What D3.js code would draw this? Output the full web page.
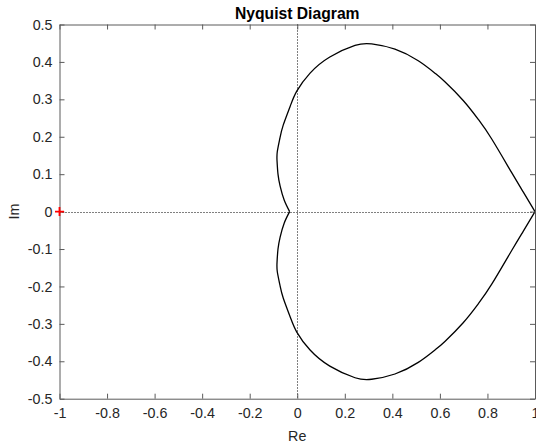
<!DOCTYPE html>
<html>
<head>
<meta charset="utf-8">
<script src="https://cdn.jsdelivr.net/npm/d3@7"></script>
<style>
  html, body { margin: 0; padding: 0; background: #fff; }
  svg { display: block; font-family: "Liberation Sans", Arial, Helvetica, sans-serif; }
</style>
</head>
<body>
<svg id="chart" width="536" height="446"></svg>
<script>
// Frequency response, upper branch: [Re, Im] from the DC point (1, 0) round to the cusp near the origin
const realPos = [1.000, 0.951, 0.902, 0.818, 0.762, 0.698, 0.621, 0.579, 0.509, 0.411, 0.313, 0.243, 0.137, 0.054, -0.002, -0.030, -0.059, -0.073, -0.084, -0.085, -0.081, -0.072, -0.055, -0.032];
const imagPos = [0.000, 0.052, 0.104, 0.194, 0.246, 0.297, 0.347, 0.370, 0.403, 0.434, 0.448, 0.444, 0.413, 0.370, 0.322, 0.281, 0.231, 0.196, 0.160, 0.135, 0.100, 0.068, 0.031, 0.000];
// Lower branch (mirror image below the real axis)
const realNeg = [1.000, 0.951, 0.902, 0.818, 0.762, 0.698, 0.621, 0.579, 0.509, 0.411, 0.313, 0.243, 0.137, 0.054, -0.002, -0.030, -0.059, -0.073, -0.084, -0.085, -0.081, -0.072, -0.055, -0.032];
const imagNeg = [0.000, -0.052, -0.104, -0.194, -0.246, -0.297, -0.347, -0.370, -0.403, -0.434, -0.448, -0.444, -0.413, -0.370, -0.322, -0.281, -0.231, -0.196, -0.160, -0.135, -0.100, -0.068, -0.031, 0.000];

// Critical point
const critical = [-1, 0];

// Axis ticks and labels
const xTicks = [-1, -0.8, -0.6, -0.4, -0.2, 0, 0.2, 0.4, 0.6, 0.8, 1];
const xTickLabels = ["-1", "-0.8", "-0.6", "-0.4", "-0.2", "0", "0.2", "0.4", "0.6", "0.8", "1"];
const yTicks = [-0.5, -0.4, -0.3, -0.2, -0.1, 0, 0.1, 0.2, 0.3, 0.4, 0.5];
const yTickLabels = ["-0.5", "-0.4", "-0.3", "-0.2", "-0.1", "0", "0.1", "0.2", "0.3", "0.4", "0.5"];

const svg = d3.select("#chart");
const plotLeft = 59.5, plotRight = 535, plotTop = 24.5, plotBottom = 398.7;

const x = d3.scaleLinear().domain([-1, 1]).range([plotLeft, plotRight]);
const y = d3.scaleLinear().domain([-0.5, 0.5]).range([plotBottom, plotTop]);

const axisColor = "#5a5a5a";
const textColor = "#262626";
const tickFont = "14.3px";

// Dotted reference lines through the origin
svg.append("line")
  .attr("x1", x(-1)).attr("x2", x(1))
  .attr("y1", Math.round(y(0)) + 0.5).attr("y2", Math.round(y(0)) + 0.5)
  .attr("stroke", "#000").attr("stroke-width", 1).attr("stroke-dasharray", "1,2");
svg.append("line")
  .attr("x1", Math.round(x(0)) + 0.5).attr("x2", Math.round(x(0)) + 0.5)
  .attr("y1", y(0.5)).attr("y2", y(-0.5))
  .attr("stroke", "#000").attr("stroke-width", 1).attr("stroke-dasharray", "1,2");

// Nyquist curve (natural spline keeps the curvature continuous between samples)
const line = d3.line()
  .x(d => x(d[0]))
  .y(d => y(d[1]))
  .curve(d3.curveNatural);

const posBranch = realPos.map((r, i) => [r, imagPos[i]]);
const negBranch = realNeg.map((r, i) => [r, imagNeg[i]]);

[posBranch, negBranch].forEach(branch => {
  svg.append("path")
    .datum(branch)
    .attr("d", line)
    .attr("fill", "none")
    .attr("stroke", "#000")
    .attr("stroke-width", 1.3)
    .attr("stroke-linejoin", "round");
});

// Axes: bottom/left with labels, top/right tick marks only (inward ticks)
const tickLen = 5;
const xAxisB = d3.axisBottom(x).tickValues(xTicks).tickSizeInner(-tickLen).tickSizeOuter(0)
  .tickPadding(9).tickFormat((d, i) => xTickLabels[i]);
const xAxisT = d3.axisTop(x).tickValues(xTicks).tickSizeInner(-tickLen).tickSizeOuter(0)
  .tickFormat("");
const yAxisL = d3.axisLeft(y).tickValues(yTicks).tickSizeInner(-tickLen).tickSizeOuter(0)
  .tickPadding(7).tickFormat((d, i) => yTickLabels[i]);
const yAxisR = d3.axisRight(y).tickValues(yTicks).tickSizeInner(-tickLen).tickSizeOuter(0)
  .tickFormat("");

function styleAxis(g) {
  g.select(".domain").attr("stroke", axisColor).attr("stroke-width", 1);
  g.selectAll(".tick line").attr("stroke", axisColor).attr("stroke-width", 1);
  g.selectAll(".tick text").attr("fill", textColor).style("font-size", tickFont)
    .style("font-family", "'Liberation Sans', Arial, sans-serif");
}

svg.append("g").attr("transform", `translate(0,${plotBottom})`).call(xAxisB).call(styleAxis);
svg.append("g").attr("transform", `translate(0,${plotTop})`).call(xAxisT).call(styleAxis);
svg.append("g").attr("transform", `translate(${plotLeft},0)`).call(yAxisL).call(styleAxis);
svg.append("g").attr("transform", `translate(${plotRight},0)`).call(yAxisR).call(styleAxis);

// Critical point marker (+)
const cx = x(critical[0]), cy = y(critical[1]), half = 4.5;
svg.append("path")
  .attr("d", `M${cx - half},${cy}H${cx + half}M${cx},${cy - half}V${cy + half}`)
  .attr("stroke", "#ff0000")
  .attr("stroke-width", 1.8)
  .attr("fill", "none");

// Title and axis labels
svg.append("text")
  .attr("x", (plotLeft + plotRight) / 2).attr("y", 19)
  .attr("text-anchor", "middle")
  .style("font-size", "15.7px").style("font-weight", "bold")
  .attr("fill", "#000")
  .text("Nyquist Diagram");

svg.append("text")
  .attr("x", (plotLeft + plotRight) / 2).attr("y", 441)
  .attr("text-anchor", "middle")
  .style("font-size", tickFont)
  .attr("fill", textColor)
  .text("Re");

svg.append("text")
  .attr("transform", `translate(19,${y(0)}) rotate(-90)`)
  .attr("text-anchor", "middle")
  .style("font-size", tickFont)
  .attr("fill", textColor)
  .text("Im");
</script>
</body>
</html>
